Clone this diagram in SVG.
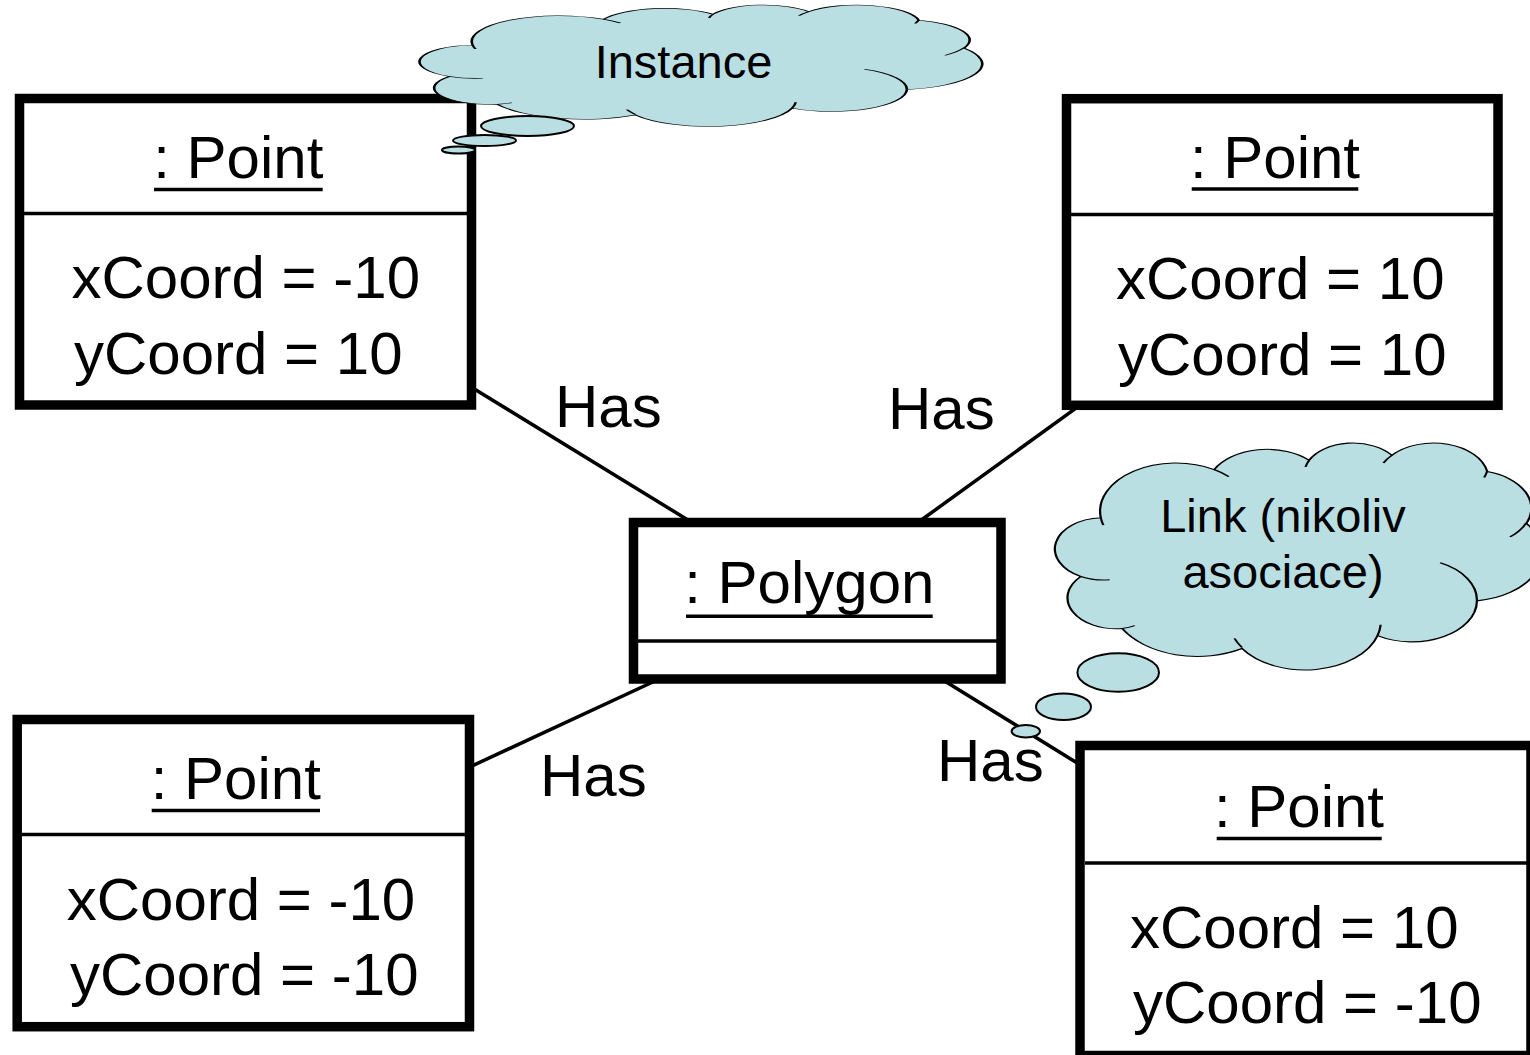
<svg xmlns="http://www.w3.org/2000/svg" xmlns:xlink="http://www.w3.org/1999/xlink" width="1530" height="1055" viewBox="0 0 1530 1055">
  <style>
    .box { fill: #ffffff; stroke: #000000; stroke-width: 9.5; }
    .div { stroke: #000000; stroke-width: 3.5; }
    .uline { stroke: #000000; stroke-width: 3.5; }
    .conn { stroke: #000000; stroke-width: 3.5; fill: none; }
    .txt { font-family: "Liberation Sans", Arial, sans-serif; font-size: 60px; fill: #000000; }
    .mid { text-anchor: middle; }
    .note { font-family: "Liberation Sans", Arial, sans-serif; font-size: 47px; fill: #000000; text-anchor: middle; }
    .cloud { fill: #b9dfe3; stroke: #000000; stroke-width: 2; vector-effect: non-scaling-stroke; }
    .crease { fill: none; stroke: #000000; stroke-width: 2; vector-effect: non-scaling-stroke; }
    .bubble { fill: #b9dfe3; stroke: #000000; stroke-width: 2; }
  </style>
  <defs>
    <!-- cloud outline in a 432 x 432 unit box -->
    <path id="cloudShape" d="M 39,143.7 A 67.53 91.9 0 0 1 140.05,52.03 A 53.33 72.67 0 0 1 224.55,34.34 A 43.65 59.45 0 0 1 298.32,24.82 A 48.57 65.95 0 0 1 383.17,55.78 A 53.33 72.73 0 0 1 418.18,154.61 A 67.75 92.2 0 0 1 374.04,302.04 A 57.85 78.67 0 0 1 285.55,368.14 A 67.52 92.15 0 0 1 164.81,392.68 A 77.2 105.43 0 0 1 58.05,354.75 A 43.6 59.18 0 0 1 21.14,255.53 A 43.45 59.45 0 0 1 39,143.7 Z"/>
    <!-- inner fold lines of the cloud -->
    <path id="cloudCreases" d="M 46.93,261.77 A 43.45 59.45 0 0 1 21.14,255.53 M 69.28,348.99 A 43.6 59.18 0 0 1 58.05,354.75 M 164.78,390.9 A 67.52 92.15 0 0 1 158.09,373.47 M 288.27,347.51 A 67.52 92.15 0 0 1 285.55,368.14 M 341.29,229.54 A 57.85 78.67 0 0 1 374.04,302.04 M 417.98,153.54 A 53.33 72.73 0 0 1 403.49,180.31 M 383.24,54.26 A 48.57 65.95 0 0 1 380.51,67.15 M 290.78,39.52 A 48.57 65.95 0 0 1 298.32,24.82 M 221.41,47.2 A 43.65 59.45 0 0 1 224.55,34.34 M 140,51.92 A 67.53 91.9 0 0 1 152.99,65.4 M 41.27,157.89 A 67.53 91.9 0 0 1 39,143.7"/>
  </defs>

  <rect x="0" y="0" width="1530" height="1055" fill="#ffffff"/>

  <!-- links between the polygon and its points -->
  <g id="connectors">
    <line class="conn" x1="471.5" y1="387.2" x2="692" y2="522.5"/>
    <line class="conn" x1="1079.8" y1="405.3" x2="917.9" y2="522.5"/>
    <line class="conn" x1="659.3" y1="679" x2="469.5" y2="767.1"/>
    <line class="conn" x1="941.4" y1="679" x2="1080" y2="764.8"/>
    <text class="txt" x="555" y="427">Has</text>
    <text class="txt" x="888" y="429">Has</text>
    <text class="txt" x="540" y="796">Has</text>
    <text class="txt" x="937" y="781">Has</text>
  </g>

  <g id="point-top-left">
    <rect class="box" x="19.5" y="98.5" width="452" height="306.5"/>
    <line class="div" x1="24" y1="213.5" x2="467" y2="213.5"/>
    <text class="txt mid" x="238.3" y="178">: Point</text>
    <line class="uline" x1="154" y1="189.5" x2="322.7" y2="189.5"/>
    <text class="txt" x="71.5" y="298">xCoord = -10</text>
    <text class="txt" x="74" y="374">yCoord = 10</text>
  </g>

  <g id="point-top-right">
    <rect class="box" x="1066.5" y="98.7" width="431.5" height="306.6"/>
    <line class="div" x1="1071" y1="214.5" x2="1493.5" y2="214.5"/>
    <text class="txt mid" x="1275" y="178.3">: Point</text>
    <line class="uline" x1="1191.7" y1="189" x2="1358.3" y2="189"/>
    <text class="txt" x="1116" y="299">xCoord = 10</text>
    <text class="txt" x="1118" y="375">yCoord = 10</text>
  </g>

  <g id="polygon">
    <rect class="box" x="633.5" y="522.5" width="367.5" height="156.5"/>
    <line class="div" x1="638" y1="641" x2="997" y2="641"/>
    <text class="txt mid" x="809.3" y="603.3">: Polygon</text>
    <line class="uline" x1="686" y1="616.3" x2="932.7" y2="616.3"/>
  </g>

  <g id="point-bottom-left">
    <rect class="box" x="17.2" y="719.5" width="452.3" height="307.2"/>
    <line class="div" x1="22" y1="834.5" x2="465" y2="834.5"/>
    <text class="txt mid" x="235.8" y="799">: Point</text>
    <line class="uline" x1="151.7" y1="810.5" x2="320" y2="810.5"/>
    <text class="txt" x="66.7" y="920">xCoord = -10</text>
    <text class="txt" x="70" y="995">yCoord = -10</text>
  </g>

  <g id="point-bottom-right">
    <rect class="box" x="1080" y="745.5" width="451" height="310"/>
    <line class="div" x1="1085" y1="863" x2="1530" y2="863"/>
    <text class="txt mid" x="1299" y="827.3">: Point</text>
    <line class="uline" x1="1216.7" y1="838.5" x2="1381.7" y2="838.5"/>
    <text class="txt" x="1130" y="948.3">xCoord = 10</text>
    <text class="txt" x="1133" y="1023.3">yCoord = -10</text>
  </g>

  <g id="note-instance">
    <g transform="translate(422 4.6) scale(1.2963 0.28125)">
      <use xlink:href="#cloudShape" class="cloud"/>
      <use xlink:href="#cloudCreases" class="crease"/>
    </g>
    <ellipse class="bubble" cx="527.5" cy="126" rx="46.5" ry="10"/>
    <ellipse class="bubble" cx="484.5" cy="140.5" rx="31.5" ry="5.5"/>
    <ellipse class="bubble" cx="458.5" cy="150" rx="16.5" ry="3.5"/>
    <text class="note" x="683.5" y="78">Instance</text>
  </g>

  <g id="note-link">
    <g transform="translate(1057 442.25) scale(1.12269 0.52523)">
      <use xlink:href="#cloudShape" class="cloud"/>
      <use xlink:href="#cloudCreases" class="crease"/>
    </g>
    <ellipse class="bubble" cx="1118.2" cy="672.5" rx="40.8" ry="19.2"/>
    <ellipse class="bubble" cx="1063.5" cy="706.7" rx="27.5" ry="13.3"/>
    <ellipse class="bubble" cx="1025.8" cy="731.2" rx="14.2" ry="6.2"/>
    <text class="note" x="1283" y="532">Link (nikoliv</text>
    <text class="note" x="1283" y="588">asociace)</text>
  </g>
</svg>
